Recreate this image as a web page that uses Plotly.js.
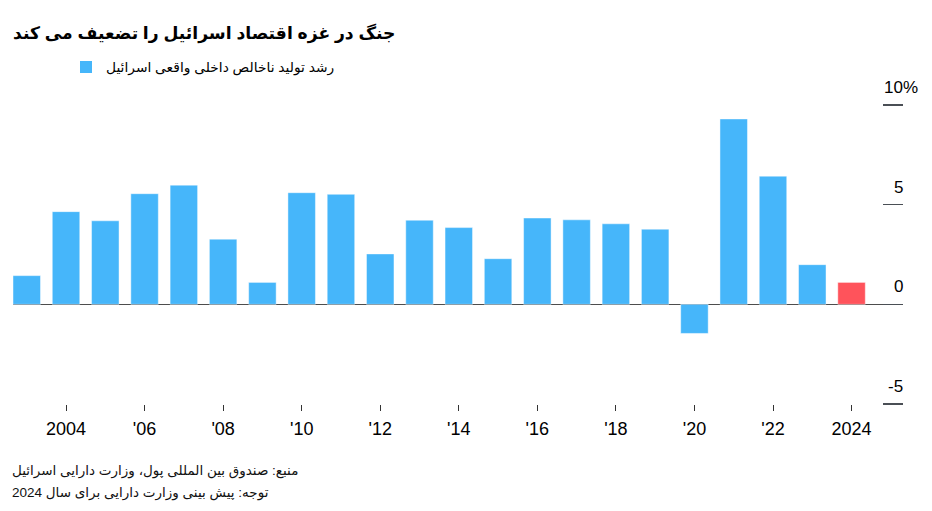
<!DOCTYPE html>
<html>
<head>
<meta charset="utf-8">
<script src="https://cdn.plot.ly/plotly-3.0.1.min.js"></script>
<style>
  html, body { margin: 0; padding: 0; background: #fff; }
  #chart { width: 932px; height: 511px; }
</style>
</head>
<body>
<div id="chart"></div>
<script>
// ---- data ----
const years = [2003, 2004, 2005, 2006, 2007, 2008, 2009, 2010, 2011, 2012, 2013,
               2014, 2015, 2016, 2017, 2018, 2019, 2020, 2021, 2022, 2023, 2024];
const gdpGrowth = [1.44, 4.65, 4.19, 5.55, 5.98, 3.27, 1.10, 5.60, 5.52, 2.53, 4.22,
                   3.85, 2.29, 4.33, 4.24, 4.04, 3.77, -1.46, 9.30, 6.43, 1.99, 1.10];
const forecastYear = 2024;
const xTickVals = [2004, 2006, 2008, 2010, 2012, 2014, 2016, 2018, 2020, 2022, 2024];
const xTickText = ['2004', "'06", "'08", "'10", "'12", "'14", "'16", "'18", "'20", "'22", '2024'];
const yTickVals = [-5, 0, 5, 10];
const yTickText = ['-5', '0', '5', '10'];

const titleText = 'جنگ در غزه اقتصاد اسرائیل را تضعیف می کند';
const legendText = 'رشد تولید ناخالص داخلی واقعی اسرائیل';
const sourceText = 'منبع: صندوق بین المللی پول، وزارت دارایی اسرائیل';
const noteText = 'توجه: پیش بینی وزارت دارایی برای سال 2024';

const BLUE = '#46b6fa';
const RED = '#ff535b';
const FONT = "Arial, 'Liberation Sans', 'DejaVu Sans', sans-serif";

const colors = years.map(y => y === forecastYear ? RED : BLUE);

const trace = {
  type: 'bar',
  x: years,
  y: gdpGrowth,
  name: legendText,
  marker: { color: colors, line: { color: 'rgba(255,255,255,0.45)', width: 1 } },
  showlegend: false,
  hoverinfo: 'x+y'
};
// legend entry (blue swatch only)
const legendTrace = {
  type: 'bar',
  x: [null],
  y: [null],
  name: legendText,
  marker: { color: BLUE },
  showlegend: true
};

const annotations = yTickVals.map((v, i) => ({
  xref: 'paper', yref: 'y', x: 1, y: v,
  text: yTickText[i], showarrow: false,
  xanchor: 'right', yanchor: 'bottom', yshift: 6, xshift: 2,
  font: { family: FONT, size: 17, color: '#000' }
}));
annotations.push({
  xref: 'paper', yref: 'y', x: 1, y: 10,
  text: '%', showarrow: false,
  xanchor: 'left', yanchor: 'bottom', yshift: 6, xshift: -2,
  font: { family: FONT, size: 17, color: '#000' }
});
annotations.push({
  xref: 'paper', yref: 'paper', x: -3 / 890, y: 0,
  text: sourceText, showarrow: false,
  xanchor: 'left', yanchor: 'top', yshift: -57,
  font: { family: FONT, size: 13.5, color: '#111' }
});
annotations.push({
  xref: 'paper', yref: 'paper', x: -3 / 890, y: 0,
  text: noteText, showarrow: false,
  xanchor: 'left', yanchor: 'top', yshift: -79,
  font: { family: FONT, size: 13.5, color: '#111' }
});

const layout = {
  width: 932,
  height: 511,
  margin: { l: 13, r: 29, t: 105, b: 107 },
  paper_bgcolor: '#fff',
  plot_bgcolor: '#fff',
  font: { family: FONT, color: '#000' },
  title: {
    text: '<b>' + titleText + '</b>',
    x: 13 / 932, xanchor: 'left', xref: 'container',
    y: 1 - 33 / 511, yanchor: 'middle', yref: 'container',
    font: { family: FONT, size: 17.2, color: '#000' }
  },
  showlegend: true,
  legend: {
    orientation: 'h',
    x: 53 / 890, xanchor: 'left',
    y: 1 + 38 / 299, yanchor: 'middle',
    font: { family: FONT, size: 13.8, color: '#000' },
    itemclick: false, itemdoubleclick: false,
    bgcolor: 'rgba(0,0,0,0)'
  },
  bargap: 0.3,
  xaxis: {
    range: [2002.65, 2025.31],
    tickmode: 'array',
    tickvals: xTickVals,
    ticktext: xTickText,
    ticks: 'outside',
    ticklen: 6,
    tickwidth: 1,
    tickcolor: '#333',
    ticklabelstandoff: 2,
    showgrid: false,
    zeroline: false,
    showline: false,
    tickfont: { family: FONT, size: 18, color: '#000' },
    fixedrange: true
  },
  yaxis: {
    range: [-5, 10],
    side: 'left',
    anchor: 'free',
    position: 1,
    tickmode: 'array',
    tickvals: yTickVals,
    ticks: 'outside',
    ticklen: 20,
    tickwidth: 1.5,
    tickcolor: '#4a4f55',
    showticklabels: false,
    showgrid: false,
    zeroline: true,
    zerolinecolor: '#4d4d4d',
    zerolinewidth: 1.5,
    showline: false,
    fixedrange: true
  },
  annotations: annotations
};

Plotly.newPlot('chart', [trace, legendTrace], layout, { displayModeBar: false, staticPlot: true });
</script>
</body>
</html>
